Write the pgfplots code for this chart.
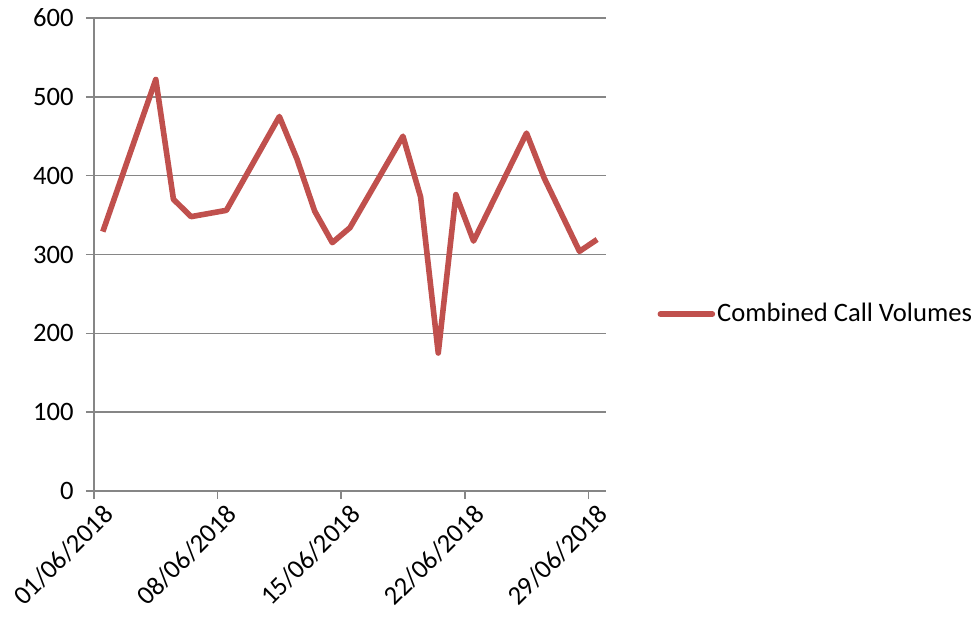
\documentclass[border=0pt]{standalone}
\usepackage{fontspec}
\setmainfont{Carlito}
\usepackage{pgfplots}
\pgfplotsset{compat=1.18}
\definecolor{linered}{RGB}{192,80,77}
\definecolor{gridgray}{RGB}{134,134,134}
\begin{document}
\begin{tikzpicture}[font=\fontsize{13.3}{16}\selectfont]
\begin{axis}[name=ax, scale only axis, width=256pt, height=236.5pt,
 xmin=0.5, xmax=29.5, ymin=0, ymax=600,
 ytick={0,100,...,600},
 xtick={0.5,7.5,14.5,21.5,28.5},
 xticklabels={01/06/2018,08/06/2018,15/06/2018,22/06/2018,29/06/2018},
 /pgf/number format/assume math mode=true,
 axis x line*=bottom, axis y line*=left,
 axis line style={gridgray, line width=0.8pt},
 ymajorgrids, grid style={gridgray, line width=0.8pt},
 tick align=outside, major tick length=4pt,
 tick style={gridgray, line width=0.8pt},
 ticklabel style={font=\fontsize{13.3}{16}\selectfont, text=black},
 x tick label style={rotate=45, anchor=north east, inner sep=1pt, xshift=2.5pt, yshift=-3pt},
 y tick label style={inner sep=1pt, xshift=-5pt},
 legend style={draw=none, fill=none, at={(1.1,0.374)}, anchor=west, inner sep=0pt,
   font=\fontsize{13.3}{16}\selectfont, nodes={inner sep=1pt}},
 legend image code/.code={\draw[#1, line cap=round] (0pt,0pt) -- (26pt,0pt);},
 clip=false,
]
\addplot[color=linered, line width=2.8pt, line join=round] coordinates {
(1,329) (4,522) (5,370) (6,348) (8,356) (11,475) (12,421) (13,355) (14,315) (15,334)
(18,450) (19,373) (20,175) (21,376) (22,317) (25,454) (26,397) (28,304) (29,319)
};
\addlegendentry{Combined Call Volumes}
\end{axis}
\path[use as bounding box] ([shift={(-47pt,-63.5pt)}]ax.south west) rectangle ([shift={(184pt,9pt)}]ax.north east);
\end{tikzpicture}
\end{document}
